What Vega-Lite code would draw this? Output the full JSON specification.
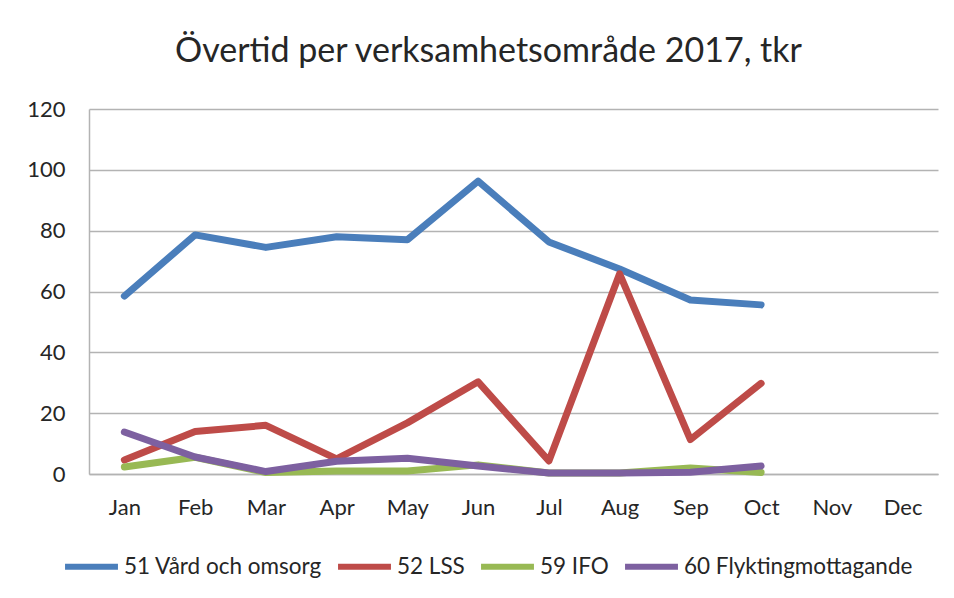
{
  "$schema": "https://vega.github.io/schema/vega-lite/v6.json",
  "width": 849,
  "height": 365,
  "autosize": {"type": "none"},
  "padding": {"left": 89, "top": 109, "right": 16, "bottom": 124},
  "background": "white",
  "title": {
    "text": "Övertid per verksamhetsområde  2017, tkr",
    "font": "Lato",
    "fontSize": 34,
    "fontWeight": "normal",
    "color": "#262626",
    "anchor": "middle",
    "dx": -25,
    "offset": 29
  },
  "data": {
    "values": [
      {"month": "Jan", "serie": "51 Vård och omsorg", "tkr": 58.5},
      {"month": "Feb", "serie": "51 Vård och omsorg", "tkr": 78.6},
      {"month": "Mar", "serie": "51 Vård och omsorg", "tkr": 74.5},
      {"month": "Apr", "serie": "51 Vård och omsorg", "tkr": 78},
      {"month": "May", "serie": "51 Vård och omsorg", "tkr": 77},
      {"month": "Jun", "serie": "51 Vård och omsorg", "tkr": 96.3},
      {"month": "Jul", "serie": "51 Vård och omsorg", "tkr": 76.3},
      {"month": "Aug", "serie": "51 Vård och omsorg", "tkr": 67.4},
      {"month": "Sep", "serie": "51 Vård och omsorg", "tkr": 57.2},
      {"month": "Oct", "serie": "51 Vård och omsorg", "tkr": 55.6},
      {"month": "Jan", "serie": "52 LSS", "tkr": 4.6},
      {"month": "Feb", "serie": "52 LSS", "tkr": 14},
      {"month": "Mar", "serie": "52 LSS", "tkr": 16},
      {"month": "Apr", "serie": "52 LSS", "tkr": 5},
      {"month": "May", "serie": "52 LSS", "tkr": 16.8},
      {"month": "Jun", "serie": "52 LSS", "tkr": 30.3},
      {"month": "Jul", "serie": "52 LSS", "tkr": 4.3},
      {"month": "Aug", "serie": "52 LSS", "tkr": 65.8},
      {"month": "Sep", "serie": "52 LSS", "tkr": 11.3},
      {"month": "Oct", "serie": "52 LSS", "tkr": 29.8},
      {"month": "Jan", "serie": "59 IFO", "tkr": 2.3},
      {"month": "Feb", "serie": "59 IFO", "tkr": 5.5},
      {"month": "Mar", "serie": "59 IFO", "tkr": 0.5},
      {"month": "Apr", "serie": "59 IFO", "tkr": 1},
      {"month": "May", "serie": "59 IFO", "tkr": 1},
      {"month": "Jun", "serie": "59 IFO", "tkr": 3},
      {"month": "Jul", "serie": "59 IFO", "tkr": 0.3},
      {"month": "Aug", "serie": "59 IFO", "tkr": 0.3},
      {"month": "Sep", "serie": "59 IFO", "tkr": 2},
      {"month": "Oct", "serie": "59 IFO", "tkr": 0.5},
      {"month": "Jan", "serie": "60 Flyktingmottagande", "tkr": 13.8},
      {"month": "Feb", "serie": "60 Flyktingmottagande", "tkr": 5.6},
      {"month": "Mar", "serie": "60 Flyktingmottagande", "tkr": 0.8},
      {"month": "Apr", "serie": "60 Flyktingmottagande", "tkr": 4.2},
      {"month": "May", "serie": "60 Flyktingmottagande", "tkr": 5.2},
      {"month": "Jun", "serie": "60 Flyktingmottagande", "tkr": 2.6},
      {"month": "Jul", "serie": "60 Flyktingmottagande", "tkr": 0.3},
      {"month": "Aug", "serie": "60 Flyktingmottagande", "tkr": 0.3},
      {"month": "Sep", "serie": "60 Flyktingmottagande", "tkr": 0.6},
      {"month": "Oct", "serie": "60 Flyktingmottagande", "tkr": 2.6}
    ]
  },
  "mark": {"type": "line", "strokeWidth": 7, "strokeJoin": "round", "strokeCap": "round"},
  "encoding": {
    "x": {
      "field": "month",
      "type": "ordinal",
      "sort": null,
      "scale": {"type": "point", "domain": ["Jan","Feb","Mar","Apr","May","Jun","Jul","Aug","Sep","Oct","Nov","Dec"], "padding": 0.5},
      "axis": {
        "title": null,
        "labelAngle": 0,
        "labelFont": "Lato",
        "labelFontSize": 22,
        "labelColor": "#262626",
        "labelPadding": 23,
        "ticks": false,
        "grid": false,
        "domainColor": "#b3b3b3",
        "domainWidth": 1.5
      }
    },
    "y": {
      "field": "tkr",
      "type": "quantitative",
      "scale": {"domain": [0, 120], "nice": false},
      "axis": {
        "title": null,
        "values": [0, 20, 40, 60, 80, 100, 120],
        "labelFont": "Lato",
        "labelFontSize": 22,
        "labelColor": "#262626",
        "labelPadding": 24,
        "ticks": false,
        "gridColor": "#b3b3b3",
        "gridWidth": 1.5,
        "domainColor": "#b3b3b3",
        "domainWidth": 1.5
      }
    },
    "color": {
      "field": "serie",
      "type": "nominal",
      "scale": {
        "domain": ["51 Vård och omsorg", "52 LSS", "59 IFO", "60 Flyktingmottagande"],
        "range": ["#4A7EBB", "#BE4B48", "#98B954", "#7D60A0"]
      },
      "legend": {
        "title": null,
        "orient": "none",
        "direction": "horizontal",
        "legendX": -27,
        "legendY": 428,
        "padding": 0,
        "symbolType": "stroke",
        "symbolStrokeWidth": 6,
        "symbolSize": 2800,
        "labelFont": "Lato",
        "labelFontSize": 22.5,
        "labelColor": "#262626",
        "labelLimit": 0,
        "labelOffset": 3,
        "columnPadding": 4
      }
    }
  },
  "config": {
    "view": {"stroke": null}
  }
}
